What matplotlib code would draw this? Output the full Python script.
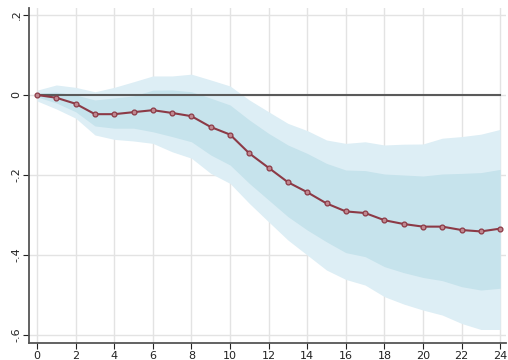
import numpy as np
import matplotlib.pyplot as plt

steps = np.arange(25)
irf = [0.0, -0.007, -0.022, -0.048, -0.048, -0.043, -0.038, -0.045, -0.053,
       -0.080, -0.099, -0.146, -0.182, -0.218, -0.243, -0.271, -0.291, -0.295,
       -0.313, -0.3225, -0.329, -0.329, -0.3375, -0.341, -0.334]
outer_hi = [0.012, 0.025, 0.019, 0.008, 0.019, 0.033, 0.0475, 0.0475, 0.052,
            0.0375, 0.0225, -0.0125, -0.042, -0.071, -0.089, -0.1125, -0.121,
            -0.117, -0.125, -0.123, -0.1225, -0.108, -0.104, -0.098, -0.086]
outer_lo = [-0.015, -0.035, -0.058, -0.100, -0.111, -0.115, -0.121, -0.142,
            -0.158, -0.196, -0.221, -0.271, -0.317, -0.3625, -0.400, -0.4375,
            -0.461, -0.475, -0.504, -0.5225, -0.5375, -0.550, -0.571, -0.586,
            -0.586]
inner_hi = [0.005, 0.007, 0.0, -0.0125, -0.0075, -0.0025, 0.012, 0.0125, 0.008,
            -0.008, -0.025, -0.0625, -0.096, -0.125, -0.146, -0.171, -0.1875,
            -0.189, -0.1975, -0.200, -0.2025, -0.1975, -0.196, -0.194, -0.186]
inner_lo = [-0.005, -0.020, -0.042, -0.0775, -0.083, -0.083, -0.092, -0.104,
            -0.117, -0.150, -0.175, -0.221, -0.2625, -0.304, -0.3375, -0.367,
            -0.394, -0.404, -0.429, -0.444, -0.456, -0.464, -0.479, -0.4875,
            -0.483]

xticks = np.arange(0, 25, 2)
yticks = [0.2, 0.0, -0.2, -0.4, -0.6]
ylabels = ['.2', '0', '-.2', '-.4', '-.6']

fig = plt.figure(figsize=(5.08, 3.6), dpi=100)
ax = fig.add_axes([0.057, 0.047, 0.939, 0.931])

ax.fill_between(steps, outer_lo, outer_hi, color='#ddeef5', lw=0, zorder=1)
ax.fill_between(steps, inner_lo, inner_hi, color='#c6e3ec', lw=0, zorder=2)
ax.plot([0, 24], [0, 0], color='#5a5a5a', lw=1.5, zorder=3)
ax.plot(steps, irf, color='#8c3a46', lw=1.5, marker='o', ms=3.5,
        mfc='#c08890', mec='#8c3a46', mew=0.9, zorder=4)

ax.set_xlim(-0.42, 24.3)
ax.set_ylim(-0.62, 0.2175)
ax.set_xticks(xticks)
ax.set_yticks(yticks)
ax.set_yticklabels(ylabels, rotation=90, va='center')
ax.grid(True, color='#e3e3e3', lw=1)
ax.set_axisbelow(True)
ax.tick_params(labelsize=8, colors='#222222', length=4, pad=1.5)
for s in ['top', 'right']:
    ax.spines[s].set_visible(False)
for s in ['left', 'bottom']:
    ax.spines[s].set_color('#555555')
    ax.spines[s].set_linewidth(1.3)

plt.savefig('out.png', dpi=100)
